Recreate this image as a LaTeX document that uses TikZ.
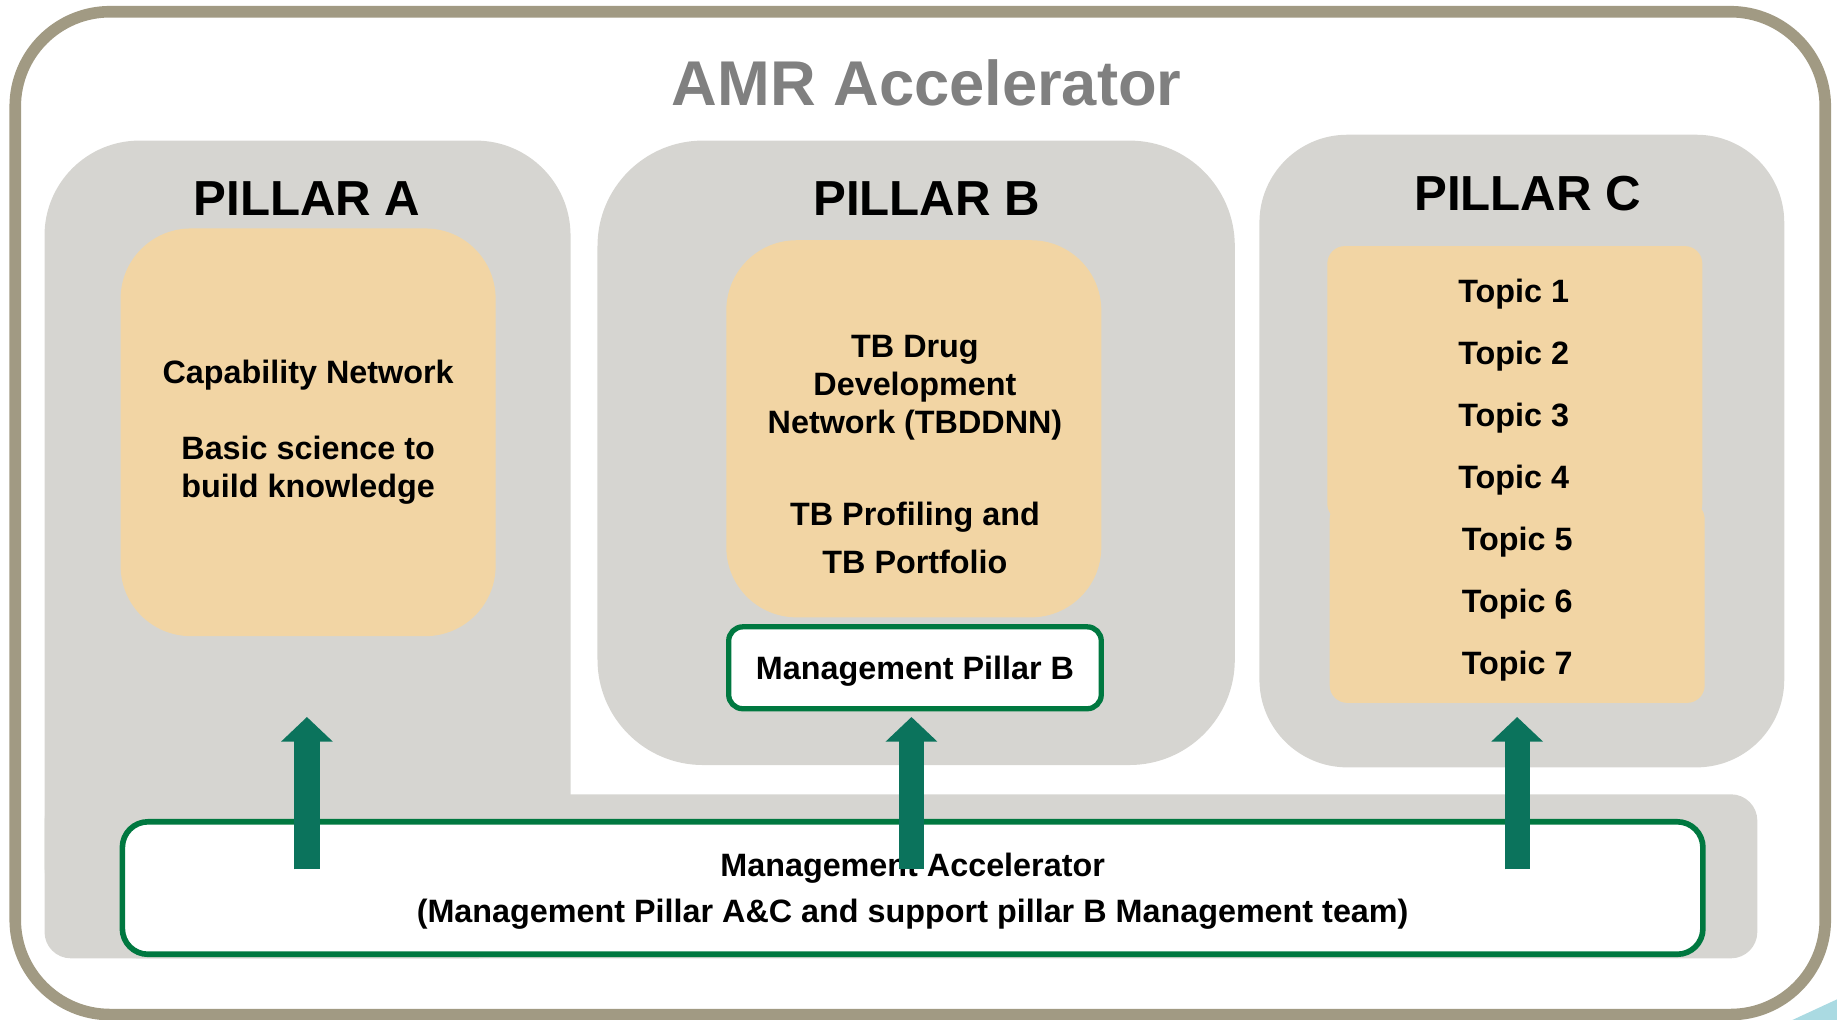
\documentclass[tikz,border=0pt]{standalone}
\usepackage{fontspec}
\setmainfont{Liberation Sans}
\usepackage{tikz}
\usetikzlibrary{arrows.meta}
\definecolor{frameTan}{RGB}{161,154,131}
\definecolor{pillarGray}{RGB}{214,213,209}
\definecolor{coreSand}{RGB}{242,213,164}
\definecolor{mgmtGreen}{RGB}{0,120,64}
\definecolor{arrowGreen}{RGB}{11,115,92}
\definecolor{titleGray}{RGB}{128,128,128}
\definecolor{swoosh}{RGB}{170,218,226}

\begin{document}
\begin{tikzpicture}[x=0.33333pt, y=-0.33333pt,
    body/.style={font=\fontsize{9.2}{10.7}\selectfont\bfseries, align=center, inner sep=0pt},
    head/.style={font=\fontsize{14}{16}\selectfont\bfseries, anchor=base, inner sep=0pt},
    core/.style={fill=coreSand, minimum width=106.7pt, rounded corners=20pt, inner sep=0pt},
    topicbox/.style={fill=coreSand, minimum width=106.7pt, rounded corners=5pt, inner sep=0pt},
    mgmt/.style={draw=mgmtGreen, fill=white, line width=1.5pt, body, text depth=0pt},
    uparrow/.style={draw=arrowGreen, line width=7.2pt, -{Triangle[width=14.3pt, length=7pt]}}]
    \useasboundingbox (0,0) rectangle (1568,870.6);
    \fill[swoosh] (1530,870.6) -- (1568,853) -- (1568,870.6) -- cycle;
    \draw[frameTan, line width=3.3pt, rounded corners=27pt] (13,10) rectangle (1558,866);
    \node[font=\fontsize{18}{20}\selectfont\bfseries, text=titleGray, anchor=base, inner sep=0pt] (amr) at (791,90) {AMR Accelerator};

    \fill[pillarGray, rounded corners=27pt] (38,120) rectangle (487,818);
    \fill[pillarGray, rounded corners=7.5pt] (38,678) rectangle (1500,818);
    \fill[pillarGray, rounded corners=30pt] (510,120) rectangle (1054,653);
    \fill[pillarGray, rounded corners=25pt] (1075,115) rectangle (1523,655);

    \node[head] (titleA) at (262,184) {PILLAR A};
    \node[head] (titleB) at (791,184) {PILLAR B};
    \node[head] (titleC) at (1304,180) {PILLAR C};

    \node[core, minimum height=116pt, body] (coreA) at (263,369) {Capability Network\\[11pt]Basic science to\\build knowledge};
    \node[core, minimum height=107.3pt] (coreB) at (780,366) {};
    \node[body] (coreBtext) at (781,388) {TB Drug\\Development\\Network (TBDDNN)\\[15.7pt]TB Profiling and\\[2.7pt]TB Portfolio};

    \node[topicbox, minimum height=78.3pt] (topicsTop) at (1293,327.5) {};
    \node[topicbox, minimum height=57.3pt] (topicsLow) at (1295,514) {};
    \foreach \i in {1,...,4}
        \node[body, anchor=base] (topic\i) at (1292,205+53*\i) {Topic \i};
    \foreach \i in {5,6,7}
        \node[body, anchor=base] (topic\i) at (1295,205+53*\i) {Topic \i};

    \node[mgmt, minimum width=106pt, minimum height=23.3pt, rounded corners=4pt] (mgmtB) at (781,570) {Management Pillar B};
    \node[mgmt, line width=1.6pt, minimum width=449.7pt, minimum height=37.7pt, rounded corners=7.3pt] (mgmtAcc) at (779,758) {Management Accelerator\\[2.3pt](Management Pillar A\&C and support pillar B Management team)};

    \coordinate (tailA) at (262,742);
    \coordinate (tipA) at (262,612);
    \coordinate (tailB) at (778,742);
    \coordinate (tipB) at (778,612);
    \coordinate (tailC) at (1295,742);
    \coordinate (tipC) at (1295,612);
    \draw[uparrow] (tailA) -- (tipA);
    \draw[uparrow] (tailB) -- (tipB);
    \draw[uparrow] (tailC) -- (tipC);
\end{tikzpicture}
\end{document}
